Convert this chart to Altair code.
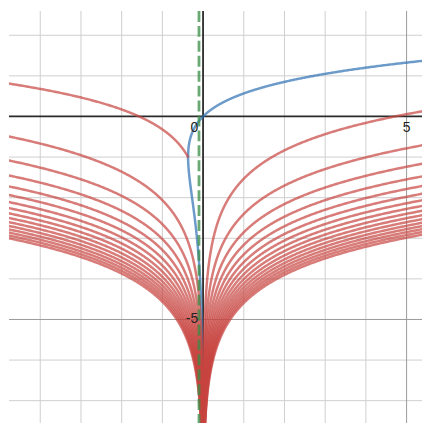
import numpy as np
import pandas as pd
import altair as alt

# ---- view window (graph units) ----
x_domain = [-4.768, 5.379]
y_domain = [-7.55, 2.598]

# ---- grid / axes ----
minor_x = [-4, -3, -2, -1, 1, 2, 3, 4]
minor_y = [-7, -6, -4, -3, -2, -1, 1, 2]
major_x = [5]
major_y = [-5]
axis_x = [0]
axis_y = [0]

# ---- tick labels ----
label_text = ["0", "5", "-5"]
label_x = [-0.12, 5.0, -0.12]
label_y = [-0.39, -0.39, -5.0]
label_align = ["right", "center", "right"]
label_baseline = ["alphabetic", "alphabetic", "middle"]

# ---- curves ----
# red: real parts of the complex Lambert-W branches, one per imaginary-part
# interval (n*pi, (n+1)*pi)
red_intervals = list(range(0, 32))
green_dash_x = -0.1
blue_y_range = [-10.0, 1.7]

W, H = 415, 414

# blue: y = W(x), drawn as x = y e^y
yb = np.linspace(blue_y_range[0], blue_y_range[1], 2500)
blue = pd.DataFrame({"x": yb * np.exp(yb), "y": yb, "i": np.arange(len(yb))})

rows = []
for n in red_intervals:
    if n == 0:
        s = np.linspace(0, 1, 1500)[1:-1]
        b = np.pi * (1 - np.cos(s * np.pi / 2))  # dense near 0
        b = b[b < np.pi - 1e-3]
        a = -b / np.tan(b)
    else:
        a = np.linspace(-10.5, 2.2, 900)
        t = np.full_like(a, np.pi / 2)
        for _ in range(60):
            bb = n * np.pi + t
            t = np.pi / 2 + np.arctan(a / bb)
        b = n * np.pi + t
    with np.errstate(over="ignore", invalid="ignore"):
        xv = -b * np.exp(a) / np.sin(b)
    m = np.isfinite(xv) & (np.abs(xv) < 9) & (a > -11) & (a < 4)
    for k, (xx, yy) in enumerate(zip(xv[m], a[m])):
        rows.append({"x": xx, "y": yy, "n": n, "i": k})
red = pd.DataFrame(rows)

xs = alt.Scale(domain=x_domain, nice=False, zero=False)
ys = alt.Scale(domain=y_domain, nice=False, zero=False)


def vrules(vals, color, width):
    return alt.Chart(pd.DataFrame({"x": vals})).mark_rule(
        color=color, strokeWidth=width
    ).encode(x=alt.X("x:Q", scale=xs, axis=None))


def hrules(vals, color, width):
    return alt.Chart(pd.DataFrame({"y": vals})).mark_rule(
        color=color, strokeWidth=width
    ).encode(y=alt.Y("y:Q", scale=ys, axis=None))


layers = [
    vrules(minor_x, "#cfcfcf", 1),
    hrules(minor_y, "#cfcfcf", 1),
    vrules(major_x, "#9a9a9a", 1),
    hrules(major_y, "#9a9a9a", 1),
    vrules(axis_x, "#2a2a2a", 1.8),
    hrules(axis_y, "#2a2a2a", 1.8),
]

blue_line = alt.Chart(blue).mark_line(
    color="#2d70b3", strokeWidth=2.5, opacity=0.7, clip=True
).encode(
    x=alt.X("x:Q", scale=xs, axis=None),
    y=alt.Y("y:Q", scale=ys, axis=None),
    order="i:Q",
)

red_lines = alt.Chart(red).mark_line(
    color="#c74440", strokeWidth=2.5, opacity=0.7, clip=True
).encode(
    x=alt.X("x:Q", scale=xs, axis=None),
    y=alt.Y("y:Q", scale=ys, axis=None),
    detail="n:N",
    order="i:Q",
)

green_line = alt.Chart(pd.DataFrame({"x": [green_dash_x]})).mark_rule(
    color="#388c46", strokeWidth=2.8, opacity=0.75, strokeDash=[11, 4]
).encode(x=alt.X("x:Q", scale=xs, axis=None))

labels = []
for txt, lx, ly, al, bl in zip(label_text, label_x, label_y, label_align, label_baseline):
    labels.append(
        alt.Chart(pd.DataFrame({"x": [lx], "y": [ly], "t": [txt]})).mark_text(
            font="Liberation Sans", fontSize=14, color="#222222", align=al, baseline=bl
        ).encode(
            x=alt.X("x:Q", scale=xs, axis=None),
            y=alt.Y("y:Q", scale=ys, axis=None),
            text="t:N",
        )
    )

chart = alt.layer(*layers, blue_line, red_lines, green_line, *labels).properties(
    width=W, height=H, padding=0
).configure_view(stroke=None)

chart.save("out.html", embed_options={"renderer": "svg", "actions": False})
